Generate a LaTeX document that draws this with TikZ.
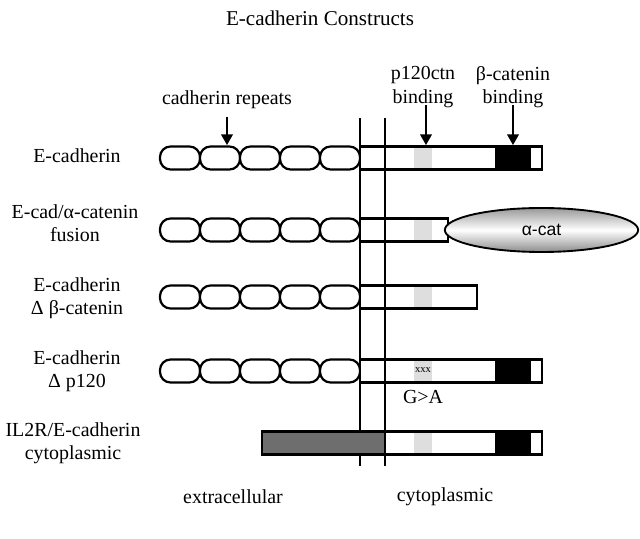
\documentclass[tikz,border=0pt]{standalone}
\usepackage{fontspec}
\setmainfont{Liberation Serif}
\newfontfamily\sansfont{Liberation Sans}
\usetikzlibrary{arrows.meta,positioning,shapes.geometric}
\definecolor{bandgray}{RGB}{222,222,222}
\definecolor{ilgray}{RGB}{110,110,110}

\begin{document}
\begin{tikzpicture}[x=0.03cm,y=-0.03cm,>={Triangle[length=9pt,width=10pt]},
	font=\fontsize{17}{20}\selectfont,
	bar/.style={draw,line width=1.9pt,fill=white},
	rep/.style={bar,rounded corners=9pt},
	lbl/.style={align=center,inner sep=1pt},
	memb/.style={line width=1.6pt},
	pointer/.style={->,line width=1pt}]
	\useasboundingbox (0,0) rectangle (640,539);

	% titulo
	\node[lbl,font=\fontsize{18}{22}\selectfont] (title) at (320,18) {E-cadherin Constructs};

	% dominios
	\node[lbl] (rep) at (227,100) {cadherin repeats};
	\node[lbl] (p120) at (423,87) {p120ctn\\binding};
	\node[lbl] (bcat) at (513,87) {β-catenin\\binding};
	\coordinate (repTip) at (227,145);
	\coordinate (p120Tip) at (426,145);
	\coordinate (bcatTip) at (513,145);
	\draw[pointer] ([yshift=-6pt]rep.south) -- (repTip);
	\draw[pointer] (p120.south -| p120Tip) ++(0,-4) -- (p120Tip);
	\draw[pointer] (bcat.south -| bcatTip) ++(0,-4) -- (bcatTip);

	% nomes das construcoes
	\node[lbl] (ecad) at (77,156) {E-cadherin};
	\node[lbl] (fus) at (75,223) {E-cad/α-catenin\\fusion};
	\node[lbl] (dbcat) at (77,298) {E-cadherin\\Δ β-catenin};
	\node[lbl] (dp120) at (77,371) {E-cadherin\\Δ p120};
	\node[lbl] (il2r) at (73,443) {IL2R/E-cadherin\\cytoplasmic};

	% repeticoes extracelulares
	\foreach \y in {158,230,297,371}
		\foreach \x in {160,200,...,320}
			\draw[rep] (\x,\y-11.5) rectangle +(40,23);

	% E-cadherin
	\draw[bar] (360,146.5) rectangle (542,169.5);
	\fill[bandgray] (414,147.6) rectangle (432,168.4);
	\fill[black] (495,147.6) rectangle (531,168.4);

	% fusao com alfa-catenina
	\draw[bar] (360,218.5) rectangle (448,241.5);
	\fill[bandgray] (414,219.6) rectangle (432,240.4);
	\node[ellipse,draw,line width=1.6pt,minimum width=5.8cm,minimum height=1.32cm,
		top color=gray!80,bottom color=gray!90,middle color=white] (acat) at (541.5,230) {};
	\node (acatText) at (acat) {\sansfont\fontsize{15}{18}\selectfont α-cat};

	% sem beta-catenina
	\draw[bar] (360,285.5) rectangle (477,308.5);
	\fill[bandgray] (414,286.6) rectangle (432,307.4);

	% mutante p120
	\draw[bar] (360,359.5) rectangle (542,382.5);
	\fill[bandgray] (414,360.6) rectangle (432,381.4);
	\fill[black] (495,360.6) rectangle (531,381.4);
	\node[inner sep=0pt,font=\fontsize{9}{10}\selectfont] (xxx) at (423,370) {xxx};
	\node[lbl] (ga) at (423,397) {G>A};

	% membrana
	\coordinate (m1t) at (360,118);
	\coordinate (m1b) at (360,466);
	\coordinate (m2t) at (385,118);
	\coordinate (m2b) at (385,466);
	\draw[memb] (m1t) -- (m1b);
	\draw[memb] (m2t) -- (m2b);

	% IL2R quimera
	\draw[bar] (385,431.5) rectangle (542,454.5);
	\fill[bandgray] (414,432.6) rectangle (432,453.4);
	\fill[black] (495,432.6) rectangle (531,453.4);
	\draw[bar,fill=ilgray] (262,431.5) rectangle (385,454.5);

	% regioes
	\node[lbl] (extra) at (233,497) {extracellular};
	\node[lbl] (cyto) at (445,497) {cytoplasmic};
\end{tikzpicture}
\end{document}
